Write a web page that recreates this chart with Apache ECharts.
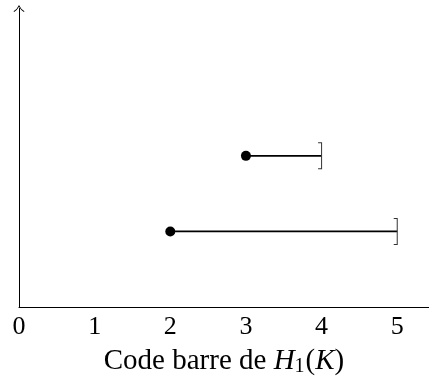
<!DOCTYPE html>
<html>
<head>
<meta charset="utf-8">
<script src="https://cdn.jsdelivr.net/npm/echarts@6/dist/echarts.min.js"></script>
<style>
html,body{margin:0;padding:0;background:#fff;}
#chart{width:429px;height:384px;}
</style>
</head>
<body>
<div id="chart"></div>
<script>
// Barcode intervals [birth, death]
const births = [3, 2];
const deaths = [4, 5];
const levels = [2, 1];
const xTicks = [0, 1, 2, 3, 4, 5];

const chart = echarts.init(document.getElementById('chart'), null, {renderer: 'canvas'});

const bracket = 'path://M0 0 L4 0 L4 27 L0 27 L0 26 L3 26 L3 1 L0 1 Z';
const chevron = 'path://M0 7 Q4 4.5 6 0 Q8 4.5 12 7 L11.4 7.7 Q8 5.4 6 1.8 Q4 5.4 0.6 7.7 Z';

const series = births.map((b, i) => ({
  type: 'line',
  silent: true,
  animation: false,
  lineStyle: {color: '#000', width: 1.8},
  itemStyle: {color: '#000'},
  showSymbol: true,
  data: [
    {value: [b, levels[i]], symbol: 'circle', symbolSize: 10, itemStyle: {color: '#000', borderWidth: 0}},
    {value: [deaths[i], levels[i]], symbol: bracket, symbolSize: [4, 27], symbolOffset: [-1.5, 0], itemStyle: {color: '#333', borderWidth: 0}}
  ]
}));

chart.setOption({
  animation: false,
  grid: {left: 19, right: 0, top: 8.5, bottom: 77, containLabel: false, outerBoundsMode: 'none'},
  xAxis: {
    type: 'value',
    min: 0,
    max: 5.42,
    interval: 1,
    axisLine: {show: true, onZero: true, lineStyle: {color: '#000', width: 1}},
    axisTick: {show: false},
    splitLine: {show: false},
    axisLabel: {
      show: true,
      margin: 7,
      color: '#000',
      fontFamily: 'Liberation Serif',
      fontSize: 26,
      showMaxLabel: false,
      formatter: v => (xTicks.indexOf(v) >= 0 ? String(v) : '')
    },
    name: '{a|Code barre de }{i|H}{s|1}{a|(}{i|K}{a|)}',
    nameLocation: 'middle',
    nameGap: 39,
    nameTextStyle: {
      color: '#000',
      fontFamily: 'Liberation Serif',
      fontSize: 29,
      rich: {
        a: {fontFamily: 'Liberation Serif', fontSize: 29, color: '#000'},
        i: {fontFamily: 'Liberation Serif', fontStyle: 'italic', fontSize: 29, color: '#000'},
        s: {fontFamily: 'Liberation Serif', fontSize: 20, color: '#000', verticalAlign: 'bottom', padding: [11, 1, 0, 0]}
      }
    }
  },
  yAxis: {
    type: 'value',
    min: 0,
    max: 3.95,
    axisLine: {show: true, symbol: ['none', chevron], symbolSize: [12, 7], lineStyle: {color: '#000', width: 1}},
    axisTick: {show: false},
    axisLabel: {show: false},
    splitLine: {show: false}
  },
  series: series
});
</script>
</body>
</html>
